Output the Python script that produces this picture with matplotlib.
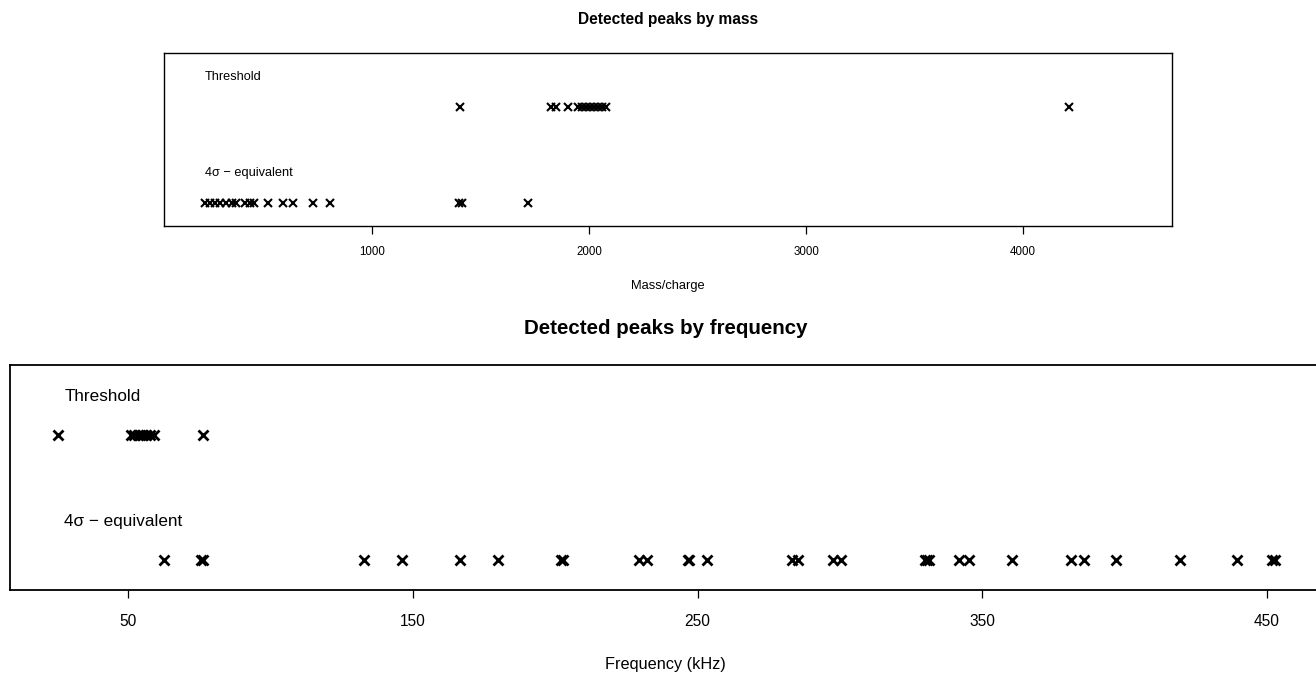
import matplotlib
matplotlib.use("Agg")
import matplotlib.pyplot as plt

plt.rcParams['font.family'] = ['Liberation Sans', 'DejaVu Sans']

# ---- data ----
mass_threshold = [1405, 1824, 1847, 1902, 1948, 1967, 1985, 2004, 2022, 2040, 2059, 2077, 4212]
mass_4sigma = [231, 254, 277, 300, 328, 355, 374, 415, 438, 457, 521, 590, 636, 728, 807,
               1400, 1414, 1718]
freq_threshold = [25.4, 51.0, 52.1, 53.2, 54.2, 55.3, 56.3, 57.7, 59.1, 76.3]
freq_4sigma = [62.4, 75.6, 76.1, 132.7, 146.1, 166.5, 179.8, 202.1, 202.6, 229.3, 232.1,
               246.5, 246.8, 253.2, 283.3, 285.1, 297.4, 300.2, 330.0, 330.7, 331.4,
               341.9, 345.4, 360.5, 381.2, 385.8, 397.0, 419.3, 439.6, 451.8, 452.8]
mass_ticks = [1000, 2000, 3000, 4000]
freq_ticks = [50, 150, 250, 350, 450]
row_labels = ["Threshold", "4\u03c3 \u2212 equivalent"]

W, H = 1316, 677
fig = plt.figure(figsize=(W / 100, H / 100), dpi=100)


def rect(l, t, r, b):
    return [l / W, 1 - b / H, (r - l) / W, (b - t) / H]


def panel(ax, thr, sig, ticks, xlim, ms, mew, fs_lab, fs_tick, fs_xlab, label_x, title, xlabel,
          fs_title, lw_box, title_pad, xlab_pad):
    ax.plot(thr, [2] * len(thr), linestyle='none', marker='x', color='black', ms=ms, mew=mew)
    ax.plot(sig, [1] * len(sig), linestyle='none', marker='x', color='black', ms=ms, mew=mew)
    ax.set_xlim(*xlim)
    ax.set_ylim(0.76, 2.565)
    ax.set_yticks([])
    ax.set_xticks(ticks)
    ax.set_xticklabels([str(t) for t in ticks], fontsize=fs_tick)
    ax.tick_params(axis='x', length=6, width=0.9, pad=fs_tick * 1.0, direction='out')
    for s in ax.spines.values():
        s.set_linewidth(lw_box)
    ax.text(label_x, 2.31, row_labels[0], fontsize=fs_lab, ha='left', va='center')
    ax.text(label_x, 1.31, row_labels[1], fontsize=fs_lab, ha='left', va='center')
    ax.set_xlabel(xlabel, fontsize=fs_xlab, labelpad=xlab_pad)
    ax.set_title(title, fontsize=fs_title, fontweight='bold', pad=title_pad)


ax1 = fig.add_axes(rect(164, 53, 1172, 226))
panel(ax1, mass_threshold, mass_4sigma, mass_ticks, (42, 4686), 5.8, 1.5, 9.2, 8.3, 9.3, 231,
      "Detected peaks by mass", "Mass/charge", 11.2, 1.0, 21, 16)

ax2 = fig.add_axes(rect(10, 365, 1321, 590))
panel(ax2, freq_threshold, freq_4sigma, freq_ticks, (8.4, 469), 7.5, 2.0, 12.3, 11.2, 11.7, 27.5,
      "Detected peaks by frequency", "Frequency (kHz)", 14.8, 1.3, 22, 20)

fig.savefig("out.png", dpi=100)
